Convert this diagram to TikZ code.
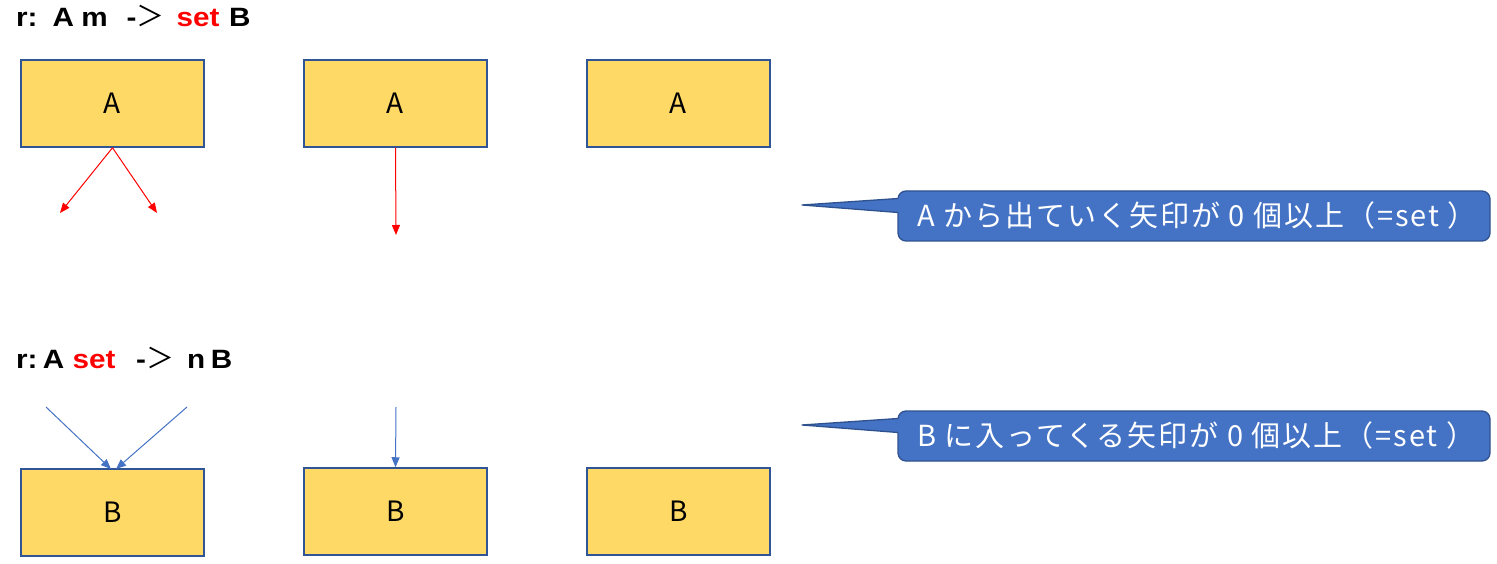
\documentclass[tikz,border=0pt]{standalone}
\usepackage{fontspec}
\setmainfont{Liberation Sans}
\newfontfamily\jp{Noto Sans CJK JP}
\newfontfamily\jpsp[LetterSpace=6.8]{Noto Sans CJK JP}
\newfontfamily\titlefont[FakeStretch=1.12]{Liberation Sans}
\usetikzlibrary{arrows.meta}
\definecolor{boxfill}{HTML}{FFD966}
\definecolor{boxline}{HTML}{2F5597}
\definecolor{callfill}{HTML}{4472C4}
\definecolor{callline}{HTML}{2F528F}
\definecolor{arrblue}{HTML}{4472C4}
\tikzset{
  ebox/.style={draw=boxline, fill=boxfill, line width=1.5pt, minimum width=183pt, minimum height=87pt, inner sep=0pt, font=\jp\fontsize{28}{30}\selectfont},
  redarr/.style={draw=red, line width=1pt, -{Triangle[length=10pt,width=8pt]}},
  bluearr/.style={draw=arrblue, line width=1pt, -{Triangle[length=10pt,width=8pt]}},
  callbox/.style={draw=callline, fill=callfill, line width=1.3pt, rounded corners=8pt, minimum width=592pt, minimum height=50pt, inner sep=0pt},
  calltext/.style={text=white, font=\jpsp\fontsize{29}{31}\selectfont, inner sep=0pt, anchor=west},
  title/.style={anchor=base west, inner sep=0pt, font=\titlefont\bfseries\fontsize{26.5}{30}\selectfont}
}
\begin{document}
\begin{tikzpicture}[x=1pt, y=-1pt]
\useasboundingbox (0,0) rectangle (1497,564);
% titles
\node[title] (t1) at (16,27) {r:\hspace{15pt}A\hspace{7.3pt}m\hspace{19pt}-{\jp\mdseries\fontsize{28}{30}\selectfont ＞}\hspace{12pt}\textcolor{red}{set}\hspace{9.6pt}B};
\node[title] (t2) at (16,368) {r:\hspace{5.3pt}A\hspace{8.3pt}\textcolor{red}{set}\hspace{20.6pt}-{\jp\mdseries\fontsize{28}{30}\selectfont ＞}\hspace{13pt}n\hspace{5.7pt}B};
% A boxes
\node[ebox] (a1) at (112.5,103.5) {A};
\node[ebox] (a2) at (395.5,103.5) {A};
\node[ebox] (a3) at (678.5,103.5) {A};
% B boxes
\node[ebox] (b1) at (112.5,512.5) {B};
\node[ebox] (b2) at (395.5,511.5) {B};
\node[ebox] (b3) at (678.5,511.5) {B};
% red arrows
\coordinate (r1) at (60,213);
\coordinate (r2) at (157,213);
\coordinate (r3) at (396,235);
\draw[redarr] (a1.south) -- (r1);
\draw[redarr] (a1.south) -- (r2);
\draw[redarr] (a2.south) -- (r3);
% blue arrows
\coordinate (s1) at (46,407);
\coordinate (s2) at (187,407);
\coordinate (s3) at (396,407);
\coordinate (e1) at (111,469);
\coordinate (e2) at (116,469);
\draw[bluearr] (s1) -- (e1);
\draw[bluearr] (s2) -- (e2);
\draw[bluearr] (s3) -- (b2.north);
% callouts
\node[callbox] (c1) at (1194,216) {};
\fill[callfill] (802,205) -- (898,198.5) -- (900.5,198.5) -- (900.5,212.5) -- (898,212.5) -- cycle;
\draw[callline, line width=1.3pt, line join=round] (898,198.5) -- (802,205) -- (898,212.5);
\node[calltext] (ct1) at (917,215) {A から出ていく矢印が 0 個以上（=set ）};
\node[callbox] (c2) at (1194,436) {};
\fill[callfill] (802,425) -- (898,418.5) -- (900.5,418.5) -- (900.5,432.5) -- (898,432.5) -- cycle;
\draw[callline, line width=1.3pt, line join=round] (898,418.5) -- (802,425) -- (898,432.5);
\node[calltext] (ct2) at (917,435) {B に入ってくる矢印が 0 個以上（=set ）};
\end{tikzpicture}
\end{document}
